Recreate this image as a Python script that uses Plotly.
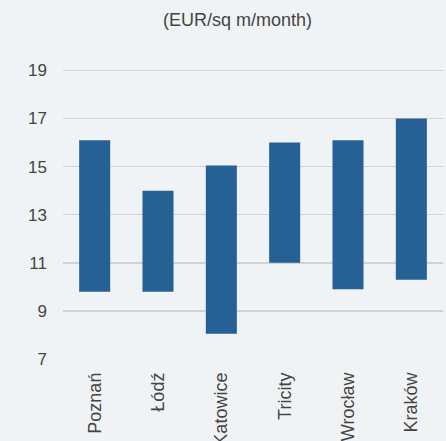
import plotly.graph_objects as go

cities = ["Poznań", "Łódź", "Katowice", "Tricity", "Wrocław", "Kraków"]
rent_low = [9.8, 9.8, 8.05, 11.0, 9.9, 10.3]
rent_high = [16.1, 14.0, 15.05, 16.0, 16.1, 17.0]
y_ticks = [7, 9, 11, 13, 15, 17, 19]
title_text = "(EUR/sq m/month)"

spans = [h - l for h, l in zip(rent_high, rent_low)]

fig = go.Figure(go.Bar(
    x=cities, y=spans, base=rent_low,
    marker=dict(color="#266196", line=dict(width=0)),
    hoverinfo="skip",
))

bg = "#eff3f6"
txt = "#444444"
font = dict(family="Liberation Sans, Arial, sans-serif", size=17, color=txt)

fig.update_layout(
    width=446, height=441,
    margin=dict(l=63, r=3, t=68, b=82, autoexpand=False),
    paper_bgcolor=bg, plot_bgcolor=bg,
    font=font,
    bargap=0.51,
    showlegend=False,
    annotations=[dict(
        text=title_text, xref="paper", yref="paper",
        x=0.458, y=1, yshift=48, xanchor="center", yanchor="middle",
        showarrow=False, font=dict(size=18, color=txt),
    )],
)
fig.update_yaxes(
    range=[7, 19.1], tickvals=y_ticks, showgrid=True,
    gridcolor="#d0d2d5", gridwidth=1.5, zeroline=False, showline=False,
    ticks="", ticklabelstandoff=15, automargin=False,
    tickfont=dict(size=17, color=txt),
)
fig.update_xaxes(
    tickangle=-90, showgrid=False, showline=False, zeroline=False,
    ticks="", ticklabelstandoff=9, automargin=False,
    tickfont=dict(size=18, color=txt),
)

fig.write_html(
    "out.html",
    config={"displayModeBar": False, "staticPlot": True},
    post_script="document.body.style.margin='0';document.body.style.overflow='hidden';",
)
